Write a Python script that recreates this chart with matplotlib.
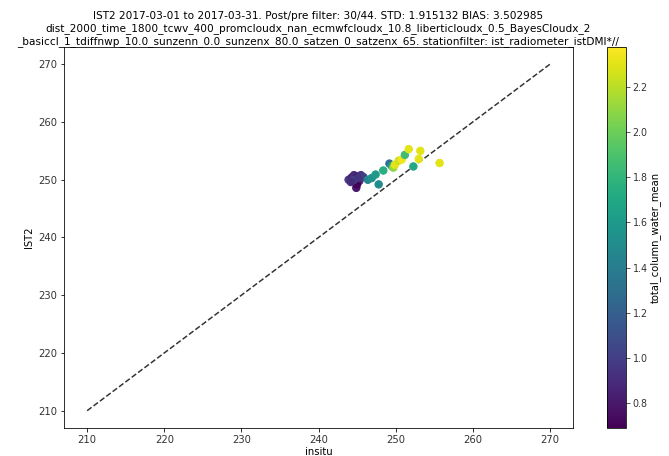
import matplotlib
matplotlib.use("Agg")
import matplotlib.pyplot as plt
import numpy as np

insitu = [243.9, 244.3, 244.6, 244.8, 245.2, 245.5, 245.3, 245.8, 244.9, 245.0,
          244.5, 246.4, 246.9, 247.4, 247.8, 248.4, 249.2, 249.5, 249.7, 249.9,
          250.4, 250.8, 251.2, 251.7, 252.3, 253.0, 253.2, 255.7, 245.1, 244.2]
ist2 = [250.0, 250.4, 250.8, 250.1, 250.6, 250.8, 249.8, 250.5, 248.6, 249.2,
        249.9, 250.0, 250.3, 250.9, 249.2, 251.6, 252.8, 252.4, 252.1, 252.6,
        253.3, 253.5, 254.3, 255.3, 252.3, 253.6, 255.0, 252.9, 250.3, 249.6]
tcwv = [1.00, 0.85, 0.90, 0.75, 0.80, 0.95, 0.90, 1.00, 0.80, 0.70,
        1.05, 1.45, 1.55, 1.60, 1.50, 1.75, 1.30, 1.60, 2.10, 2.30,
        2.25, 2.35, 1.85, 2.30, 1.70, 2.30, 2.30, 2.30, 0.95, 0.90]
line_range = [210, 270]

title = ("IST2 2017-03-01 to 2017-03-31. Post/pre filter: 30/44. STD: 1.915132 BIAS: 3.502985\n"
         "dist_2000_time_1800_tcwv_400_promcloudx_nan_ecmwfcloudx_10.8_liberticloudx_0.5_BayesCloudx_2\n"
         "_basiccl_1_tdiffnwp_10.0_sunzenn_0.0_sunzenx_80.0_satzen_0_satzenx_65. stationfilter: ist_radiometer_istDMI*//")

fig = plt.figure(figsize=(669/72, 456/72), dpi=72)
ax = fig.add_axes([0.0957, 0.0614, 0.7608, 0.8356])
cax = fig.add_axes([0.907, 0.0614, 0.028, 0.8356])

sc = ax.scatter(insitu, ist2, c=tcwv, cmap='viridis', s=55, vmin=0.69, vmax=2.377, zorder=3)
ax.plot(line_range, line_range, '--', color='#333333', lw=1.5, zorder=2)
ax.set_xlim(207, 273)
ax.set_ylim(207, 273)
ax.set_xticks([210, 220, 230, 240, 250, 260, 270])
ax.set_yticks([210, 220, 230, 240, 250, 260, 270])
ax.set_xlabel('insitu', labelpad=2)
ax.set_ylabel('IST2')
for lab in ax.get_xticklabels() + ax.get_yticklabels():
    lab.set_color('#333333')

cb = fig.colorbar(sc, cax=cax)
cb.set_ticks([0.8, 1.0, 1.2, 1.4, 1.6, 1.8, 2.0, 2.2])
cb.ax.tick_params(labelsize=9.5, colors='#333333')
cb.set_label('total_column_water_mean', labelpad=2)

ax.set_title(title, fontsize=10.5, linespacing=1.25, pad=3)

fig.savefig('out.png', dpi=72)
